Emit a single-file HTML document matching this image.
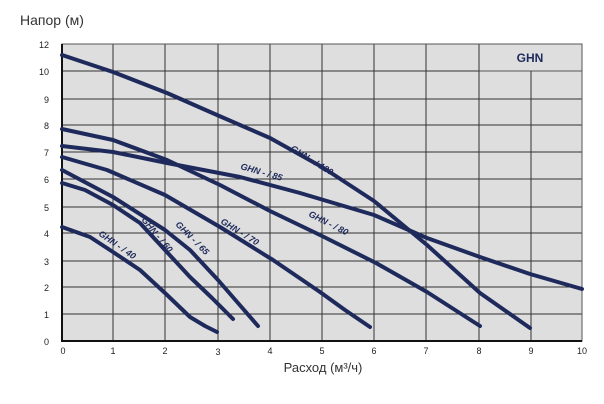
<!DOCTYPE html>
<html><head><meta charset="utf-8"><style>
body{margin:0;background:#fff;width:604px;height:404px;overflow:hidden}
svg{display:block}
</style></head><body>
<svg width="604" height="404" xmlns="http://www.w3.org/2000/svg" font-family="Liberation Sans, sans-serif">
<text x="20" y="25" font-size="14" fill="#333">Напор (м)</text>
<rect x="62" y="44" width="520" height="297" fill="#dedede"/>
<g stroke="#333" stroke-width="1">
<line x1="62" y1="71" x2="479" y2="71"/><line x1="479" y1="71" x2="582" y2="71" stroke="#555"/>
<line x1="62" y1="99" x2="582" y2="99"/><line x1="62" y1="125" x2="582" y2="125"/>
<line x1="62" y1="152" x2="582" y2="152"/><line x1="62" y1="179" x2="582" y2="179"/>
<line x1="62" y1="207" x2="582" y2="207"/><line x1="62" y1="233" x2="582" y2="233"/>
<line x1="62" y1="261" x2="582" y2="261"/><line x1="62" y1="287" x2="582" y2="287"/>
<line x1="62" y1="314" x2="582" y2="314"/>
<line x1="113" y1="44" x2="113" y2="341"/><line x1="165" y1="44" x2="165" y2="341"/>
<line x1="218" y1="44" x2="218" y2="341"/><line x1="270" y1="44" x2="270" y2="341"/>
<line x1="322" y1="44" x2="322" y2="341"/><line x1="374" y1="44" x2="374" y2="341"/>
<line x1="426" y1="44" x2="426" y2="341"/><line x1="479" y1="44" x2="479" y2="341"/>
<line x1="531" y1="71" x2="531" y2="341"/>
</g>
<rect x="62" y="44" width="520" height="297" fill="none" stroke="#555" stroke-width="1"/>
<line x1="62" y1="44" x2="62" y2="342" stroke="#111" stroke-width="2"/>
<line x1="61" y1="341" x2="582" y2="341" stroke="#111" stroke-width="2"/>
<text x="530" y="62" font-size="12" font-weight="bold" fill="#1f2a5c" text-anchor="middle">GHN</text>
<g fill="none" stroke="#1f2a5c" stroke-width="4" stroke-linecap="round" stroke-linejoin="round">
<polyline points="62,55 113,72 167,93 217,115 270,138 322,167 374,201 427,245 480,293 530,328"/>
<polyline points="62,146 113,152 167,163 240,177 300,193 374,215 427,238 480,257 530,274 582,289"/>
<polyline points="62,129 113,140 167,160 220,185 270,211 320,235 376,263 427,292 480,326"/>
<polyline points="62,157 107,170 165,195 220,227 273,260 320,292 345,310 370,327"/>
<polyline points="62,170 113,197 165,230 190,250 218,280 238,303 258,326"/>
<polyline points="62,183 85,190 113,205 140,223 165,250 190,277 212,298 233,319"/>
<polyline points="62,227 90,237 113,252 140,270 165,293 190,317 205,326 217,332"/>
</g>
<g font-size="9" font-weight="bold" font-style="italic" fill="#1f2a5c">
<text transform="translate(290,150) rotate(32)">GHN - / 120</text>
<text transform="translate(240,169) rotate(16)">GHN - / 85</text>
<text transform="translate(308,216) rotate(27)">GHN - / 80</text>
<text transform="translate(220,223) rotate(32)">GHN - / 70</text>
<text transform="translate(175,225) rotate(45)">GHN - / 65</text>
<text transform="translate(141,220) rotate(50)">GHN - / 60</text>
<text transform="translate(98,235) rotate(35)">GHN - / 40</text>
</g>
<g font-size="9" fill="#222" text-anchor="end">
<text x="49" y="48">12</text><text x="49" y="75">10</text><text x="49" y="103">9</text>
<text x="49" y="129">8</text><text x="49" y="156">7</text><text x="49" y="183">6</text>
<text x="49" y="211">5</text><text x="49" y="237">4</text><text x="49" y="265">3</text>
<text x="49" y="291">2</text><text x="49" y="318">1</text><text x="49" y="345">0</text>
</g>
<g font-size="9" fill="#222" text-anchor="middle">
<text x="63" y="354">0</text><text x="113" y="354">1</text><text x="165" y="354">2</text>
<text x="218" y="355">3</text><text x="270" y="354">4</text><text x="322" y="354">5</text>
<text x="374" y="354">6</text><text x="426" y="354">7</text><text x="479" y="354">8</text>
<text x="531" y="354">9</text><text x="582" y="354">10</text>
</g>
<text x="323" y="372" font-size="13" fill="#333" text-anchor="middle">Расход (м³/ч)</text>
</svg>
</body></html>
